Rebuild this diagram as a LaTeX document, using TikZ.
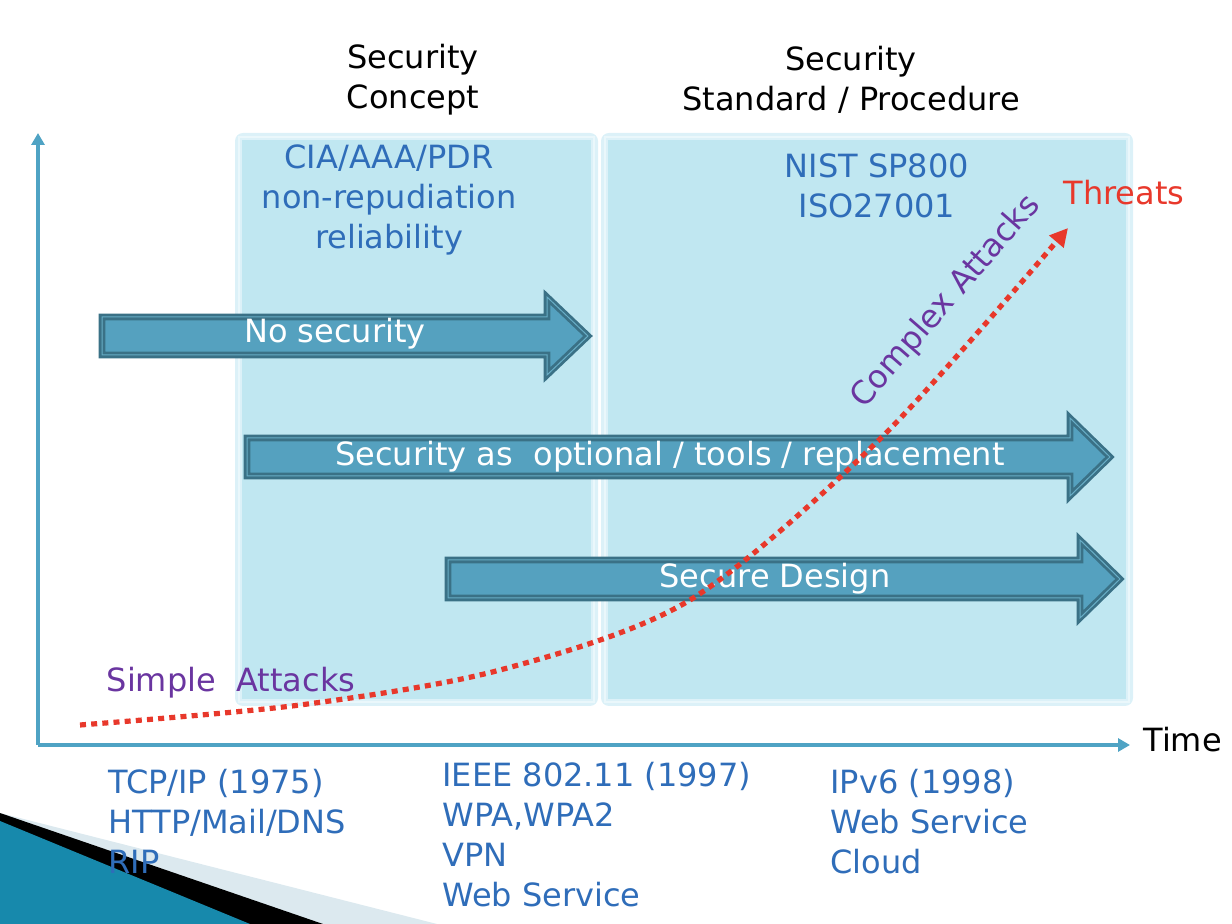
\documentclass[tikz,border=0pt]{standalone}
\usepackage{fontspec}
\setmainfont{DejaVu Sans}
\usepackage{xcolor}
\definecolor{axisblue}{HTML}{4FA3C4}
\definecolor{panelfill}{HTML}{C0E7F1}
\definecolor{panelrim}{HTML}{DCF1F8}
\definecolor{panelline}{HTML}{EAF7FB}
\definecolor{arrowfill}{HTML}{55A1BF}
\definecolor{arrowedge}{HTML}{3A7186}
\definecolor{arrowline}{HTML}{68ADC6}
\definecolor{textblue}{HTML}{2F6DB9}
\definecolor{attackpurple}{HTML}{6A35A0}
\definecolor{threatred}{HTML}{E8382B}
\definecolor{wedgegrey}{HTML}{DCE9EF}
\definecolor{wedgedark}{HTML}{1789AC}
\definecolor{wedgelight}{HTML}{5CBAD7}
\usepackage{tikz}
\usetikzlibrary{arrows.meta}

% block arrow: start x, head base x, tip x, centre y
\newcommand{\blockarrow}[4]{%
  \path[fatarrow] (#1,#4-19) -- (#2,#4-19) -- (#2,#4-39) -- (#3,#4)
    -- (#2,#4+39) -- (#2,#4+19) -- (#1,#4+19) -- cycle;}

\begin{document}
\begin{tikzpicture}[
  x=0.5pt, y=-0.5pt,
  font=\fontsize{16}{20}\selectfont,
  every node/.style={align=center, inner sep=0pt},
  fatarrow/.style={fill=arrowfill, draw=arrowedge, line width=1.4pt,
    double=arrowline, double distance=0.5pt},
  axisline/.style={axisblue, line width=1.8pt,
    -{Triangle[length=6pt, width=6.5pt]}},
  bluetext/.style={textblue},
  listtext/.style={textblue, anchor=west, align=left},
  arrowtext/.style={white}
]
  \useasboundingbox (0,0) rectangle (1232,924);

  % panels
  \fill[panelrim, rounded corners=4pt] (235,133) rectangle (598,706);
  \fill[panelfill] (242,140) rectangle (591,699);
  \draw[panelline, line width=0.6pt] (239,137) rectangle (594,702);
  \fill[panelrim, rounded corners=4pt] (601,133) rectangle (1133,706);
  \fill[panelfill] (608,140) rectangle (1126,699);
  \draw[panelline, line width=0.6pt] (605,137) rectangle (1129,702);

  \node (concept) at (413,80) {Security\\Concept};
  \node (standard) at (851,80) {Security\\Standard / Procedure};
  \node[bluetext] (cia) at (389,200) {CIA/AAA/PDR\\non-repudiation\\reliability};
  \node[bluetext] (nist) at (877,186) {NIST SP800\\ISO27001};

  % axes
  \coordinate (origin) at (38,745);
  \coordinate (ytop) at (38,133);
  \coordinate (xend) at (1130,745);
  \draw[axisline] (origin) -- (ytop);
  \draw[axisline] (origin) -- (xend);
  \node[anchor=west] (time) at (1143,740) {Time};

  % eras
  \blockarrow{102}{547}{588}{336}
  \node[arrowtext] (nosec) at (335,334) {No security};
  \blockarrow{247}{1070}{1110}{457}
  \node[arrowtext] (optional) at (670,457)
    {Security as~~optional / tools / replacement};
  \blockarrow{448}{1080}{1120}{579}
  \node[arrowtext] (design) at (775,579) {Secure Design};

  % threat growth
  \draw[threatred, line width=2.6pt, dash pattern=on 3pt off 2.6pt,
        -{Triangle[length=9pt, width=9pt]}]
    plot[smooth] coordinates {(80,725) (300,705) (500,670)
      (690,600) (882,437) (1068,228)};
  \node[threatred] (threats) at (1124,193) {Threats};
  \node[attackpurple] (simple) at (231,683) {Simple~~Attacks};
  \node[attackpurple, rotate=49] (complex) at (946,302) {Complex Attacks};

  % corner decoration
  \fill[wedgegrey] (0,813) -- (437,924) -- (0,924) -- cycle;
  \fill[black] (0,813) -- (323,924) -- (0,924) -- cycle;
  \shade[left color=wedgedark, middle color=wedgelight, right color=wedgedark]
    (0,821) -- (250,924) -- (0,924) -- cycle;

  % technologies
  \node[listtext] (tcp) at (108,821) {TCP/IP (1975)\\HTTP/Mail/DNS\\RIP};
  \node[listtext] (ieee) at (442,835)
    {IEEE 802.11 (1997)\\WPA,WPA2\\VPN\\Web Service};
  \node[listtext] (ipv6) at (830,822) {IPv6 (1998)\\Web Service\\Cloud};
\end{tikzpicture}
\end{document}
